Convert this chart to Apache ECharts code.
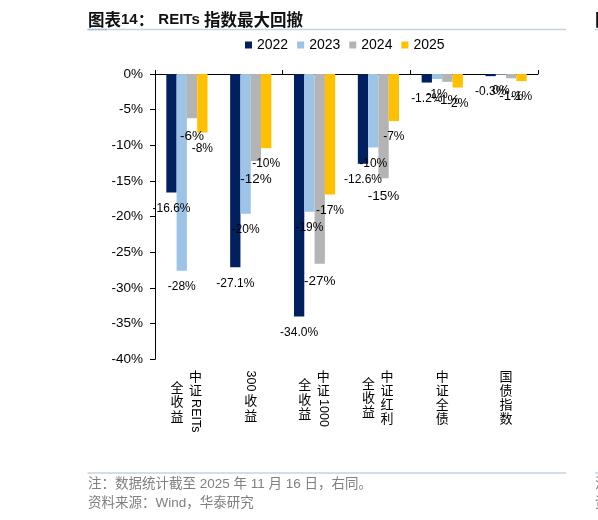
<!DOCTYPE html>
<html><head><meta charset="utf-8">
<script src="https://cdn.jsdelivr.net/npm/echarts@6.0.0/dist/echarts.min.js"></script>
<style>html,body{margin:0;padding:0;background:#fff;}#c{width:598px;height:520px;}</style>
</head><body><div id="c"></div>
<script>
// ---------------- data ----------------
const categories = ['中证REITs全收益', '300收益', '中证1000全收益', '中证红利全收益', '中证全债', '国债指数'];
// vertical label columns (first column is the rightmost, as in vertical-rl writing)
const labelColumns = [['中证REITs', '全收益'], ['300收益'], ['中证1000', '全收益'], ['中证红利', '全收益'], ['中证全债'], ['国债指数']];
const years = ['2022', '2023', '2024', '2025'];
const v2022 = [-16.6, -27.1, -34.0, -12.6, -1.2, -0.3];
const v2023 = [-27.6, -19.6, -19.3, -10.3, -0.7, -0.1];
const v2024 = [-6.2, -12.2, -26.6, -14.6, -1.1, -0.6];
const v2025 = [-8.2, -10.4, -16.9, -6.6, -1.9, -1.0];
const yMin = -40, yMax = 0, yStep = 5;
const titleNo = '图表14：';
const titleText = 'REITs 指数最大回撤';
const noteLines = ['注：数据统计截至 2025 年 11 月 16 日，右同。', '资料来源：Wind，华泰研究'];

// ---------------- style ----------------
const colors = ['#002060', '#9DC3E6', '#B4B4B4', '#FFC000'];
const LAT = '"Liberation Sans", Arial, sans-serif';
const MIX = '"Liberation Sans", "Noto Sans CJK SC", sans-serif';
const CJK = '"Noto Sans CJK SC", sans-serif';
const CJK_FS = 13, CJK_LH = 14.3, LAT_FS = 12.5, LAT_PAD = 4;
const DX_RIGHT = 8.7, DX_LEFT = -9.8;

const mctx = document.createElement('canvas').getContext('2d');
function textW(t, font) { mctx.font = font; return mctx.measureText(t).width; }

function colInfo(str) {
  const toks = str.match(/[A-Za-z0-9]+|[^A-Za-z0-9]/g);
  let h = 0; const list = [];
  toks.forEach(t => {
    if (/^[A-Za-z0-9]+$/.test(t)) {
      const w = textW(t, LAT_FS + 'px ' + LAT);
      list.push({ latin: true, t, start: h, len: w + LAT_PAD });
      h += w + LAT_PAD;
    } else {
      list.push({ latin: false, t, start: h, len: CJK_LH });
      h += CJK_LH;
    }
  });
  return { toks: list, h };
}

const richCols = { cj: { fontSize: CJK_FS, lineHeight: CJK_LH, width: 14, fontFamily: CJK, color: '#000' } };
const richLat = {};
const rightLabels = [], leftLabels = [], latinLabels = [];

function buildCol(info, dx, dy, key) {
  const sp = Math.abs(2 * dx);
  const lines = [];
  if (sp > 0) richCols[key + 's'] = { width: sp, fontSize: CJK_FS, lineHeight: CJK_LH };
  if (dy > 0.5) {
    richCols[key + 'v'] = { width: 14 + sp, lineHeight: dy, height: dy, fontSize: 1 };
    lines.push('{' + key + 'v| }');
  }
  info.toks.forEach((tk, k) => {
    let content;
    if (tk.latin) {
      richCols[key + 'g' + k] = { width: 14, lineHeight: tk.len, height: tk.len, fontSize: 1 };
      content = '{' + key + 'g' + k + '| }';
    } else content = '{cj|' + tk.t + '}';
    const spacer = sp > 0 ? '{' + key + 's| }' : '';
    lines.push(dx >= 0 ? spacer + content : content + spacer);
  });
  return lines.join('\n');
}

labelColumns.forEach((cols, i) => {
  const infos = cols.map(colInfo);
  const two = infos.length > 1;
  const dxR = two ? DX_RIGHT : 0;
  rightLabels.push(buildCol(infos[0], dxR, 0, 'r' + i));
  leftLabels.push(two ? buildCol(infos[1], DX_LEFT, (infos[0].h - infos[1].h) / 2, 'l' + i) : '');
  // rotated latin run (first one found in any column)
  let lat = '';
  infos.forEach((inf, c) => {
    if (lat) return;
    const dx = c === 0 ? dxR : DX_LEFT;
    const dy = c === 0 ? 0 : (infos[0].h - inf.h) / 2;
    inf.toks.forEach(tk => {
      if (lat || !tk.latin) return;
      richLat['L' + i] = {
        fontSize: LAT_FS, fontFamily: LAT, color: '#000',
        padding: [dx < 0 ? -2 * dx : 0, 0, dx > 0 ? 2 * dx : 0, dy + tk.start + LAT_PAD / 2]
      };
      lat = '{L' + i + '|' + tk.t + '}';
    });
  });
  latinLabels.push(lat);
});

function fmtInt(v) { const r = Math.round(v); return (r === 0 ? 0 : r) + '%'; }

const seriesData = [v2022, v2023, v2024, v2025];
const labelAxisBase = {
  type: 'category', data: categories, position: 'bottom', gridIndex: 0,
  axisLine: { show: false, onZero: false }, axisTick: { show: false }, splitLine: { show: false }
};

const chart = echarts.init(document.getElementById('c'), null, { renderer: 'canvas' });
chart.setOption({
  animation: false,
  backgroundColor: '#fff',
  grid: { left: 155, top: 74, width: 383, height: 285.3, containLabel: false, outerBoundsMode: 'none' },
  legend: {
    data: years, left: 245, top: 37, padding: 0, icon: 'rect', itemWidth: 7, itemHeight: 7, itemGap: 9,
    textStyle: { fontSize: 14, color: '#000', fontFamily: LAT, lineHeight: 16 }
  },
  xAxis: [
    {
      type: 'category', data: categories, position: 'bottom',
      axisLine: { show: true, onZero: true, lineStyle: { color: '#000', width: 1 } },
      axisTick: { show: true, inside: true, length: 4, lineStyle: { color: '#000' } },
      axisLabel: { show: false }, splitLine: { show: false }
    },
    Object.assign({}, labelAxisBase, {
      axisLabel: { interval: 0, margin: 9.2, lineHeight: CJK_LH, formatter: (v, i) => rightLabels[i], rich: richCols }
    }),
    Object.assign({}, labelAxisBase, {
      axisLabel: { interval: 0, margin: 9.2, lineHeight: CJK_LH, formatter: (v, i) => leftLabels[i], rich: richCols }
    }),
    Object.assign({}, labelAxisBase, {
      axisLabel: { interval: 0, margin: 9.2, rotate: -90, formatter: (v, i) => latinLabels[i], rich: richLat }
    })
  ],
  yAxis: {
    type: 'value', min: yMin, max: yMax, interval: yStep,
    axisLine: { show: true, lineStyle: { color: '#000', width: 1 } },
    axisTick: { show: true, length: 5, lineStyle: { color: '#000' } },
    axisLabel: { formatter: '{value}%', fontSize: 13.5, color: '#000', fontFamily: LAT, margin: 12 },
    splitLine: { show: false }
  },
  series: years.map((y, k) => ({
    name: y, type: 'bar', xAxisIndex: 0, yAxisIndex: 0, data: seriesData[k],
    barWidth: 10.3, barGap: '0%',
    itemStyle: { color: colors[k] },
    label: {
      show: true, position: 'bottom', distance: k === 2 ? 11 : 10,
      fontSize: k === 2 ? 13.5 : 12, color: '#000', fontFamily: LAT,
      formatter: p => k === 0 ? p.value.toFixed(1) + '%' : fmtInt(p.value)
    }
  })),
  graphic: [
    {
      type: 'text', x: 88, y: 19.5, silent: true,
      style: {
        text: '{c|图表}{n|14}{c|：}{n| ' + titleText.split(' ')[0] + ' }{c|' + titleText.split(' ')[1] + '}',
        verticalAlign: 'middle',
        rich: {
          c: { fontSize: 16.5, fontWeight: 'bold', fontFamily: CJK, fill: '#111' },
          n: { fontSize: 15, fontWeight: 'bold', fontFamily: LAT, fill: '#111' }
        }
      }
    },
    { type: 'text', x: 595, y: 19.5, silent: true, style: { text: titleNo, verticalAlign: 'middle', font: 'bold 16.5px ' + CJK, fill: '#111' } },
    { type: 'line', silent: true, shape: { x1: 87.5, y1: 29.5, x2: 566, y2: 29.5 }, style: { stroke: '#C5D3E2', lineWidth: 1.5 } },
    { type: 'line', silent: true, shape: { x1: 87.5, y1: 29.5, x2: 107, y2: 29.5 }, style: { stroke: '#A9BDD3', lineWidth: 1.5 } },
    { type: 'line', silent: true, shape: { x1: 595, y1: 29.5, x2: 598, y2: 29.5 }, style: { stroke: '#C5D3E2', lineWidth: 1.5 } },
    { type: 'line', silent: true, shape: { x1: 87.5, y1: 473, x2: 566, y2: 473 }, style: { stroke: '#C5D3E2', lineWidth: 1.5 } },
    { type: 'line', silent: true, shape: { x1: 595, y1: 473, x2: 598, y2: 473 }, style: { stroke: '#C5D3E2', lineWidth: 1.5 } },
    { type: 'text', x: 88, y: 484, silent: true, style: { text: noteLines[0], verticalAlign: 'middle', font: '13.5px ' + MIX, fill: '#7F7F7F' } },
    { type: 'text', x: 88, y: 503, silent: true, style: { text: noteLines[1], verticalAlign: 'middle', font: '13.5px ' + MIX, fill: '#7F7F7F' } },
    { type: 'text', x: 595, y: 484, silent: true, style: { text: noteLines[0], verticalAlign: 'middle', font: '13.5px ' + MIX, fill: '#7F7F7F' } },
    { type: 'text', x: 595, y: 503, silent: true, style: { text: noteLines[1], verticalAlign: 'middle', font: '13.5px ' + MIX, fill: '#7F7F7F' } }
  ]
});
</script>
</body></html>
